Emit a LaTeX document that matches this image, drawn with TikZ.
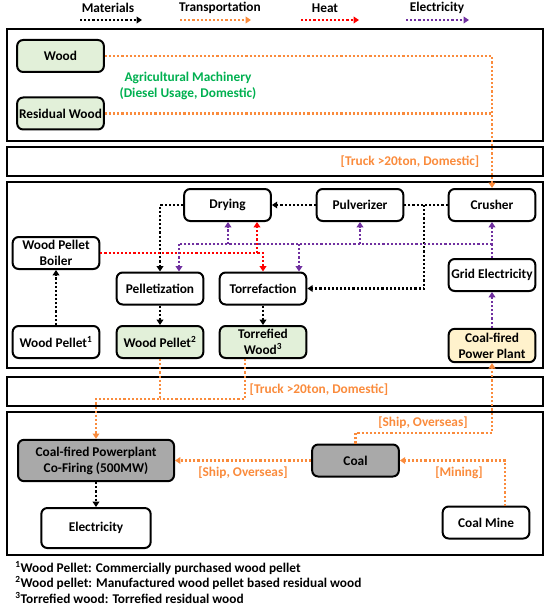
\documentclass[tikz,border=0pt]{standalone}
\usepackage{fontspec}
\setmainfont{Carlito}
\usetikzlibrary{arrows.meta}
\definecolor{woodgreen}{HTML}{E2F0D9}
\definecolor{plantyellow}{HTML}{FFF2CC}
\definecolor{coalgray}{HTML}{A9A9A9}
\definecolor{agrigreen}{HTML}{00B050}
\definecolor{truckorange}{HTML}{FA8B3C}
\definecolor{elecpurple}{HTML}{7030A0}

\begin{document}
\begin{tikzpicture}[x=0.75pt, y=-0.75pt, font=\fontsize{10}{12}\selectfont\bfseries, unit/.style={draw, line width=1.5pt, rounded corners=4.5pt, minimum width=65pt, minimum height=24pt, align=center, inner sep=1pt}, green/.style={fill=woodgreen}, gray/.style={fill=coalgray}, yellow/.style={fill=plantyellow}, frame/.style={draw, line width=1.8pt}, flow/.style={line width=1.7pt, dash pattern=on 1.6pt off 1.5pt}, material/.style={flow, draw=black, -{Triangle[length=4pt, width=5pt]}}, materialline/.style={flow, draw=black}, transport/.style={flow, draw=truckorange, -{Triangle[length=4pt, width=5pt]}}, transportline/.style={flow, draw=truckorange}, heat/.style={flow, draw=red, -{Triangle[length=4pt, width=5pt]}}, elec/.style={flow, draw=elecpurple, -{Triangle[length=4pt, width=5pt]}}, elecline/.style={flow, draw=elecpurple}, label/.style={text=truckorange, inner sep=1pt}]

	\useasboundingbox (0, 0) rectangle (550, 606);

	\node (matlabel) at (108, 8) {Materials};
	\node (translabel) at (220, 8) {Transportation};
	\node (heatlabel) at (325, 8) {Heat};
	\node (eleclabel) at (437, 8) {Electricity};

	\coordinate (matA) at (80, 20);
	\coordinate (matB) at (142, 20);
	\coordinate (transA) at (180, 20);
	\coordinate (transB) at (251, 20);
	\coordinate (heatA) at (301, 20);
	\coordinate (heatB) at (359, 20);
	\coordinate (elecA) at (406, 20);
	\coordinate (elecB) at (469, 20);

	\draw[material] (matA) -- (matB);
	\draw[transport] (transA) -- (transB);
	\draw[heat] (heatA) -- (heatB);
	\draw[elec] (elecA) -- (elecB);

	\draw[frame] (7, 29) rectangle (543, 141);
	\draw[frame] (7, 147) rectangle (543, 176);
	\draw[frame] (7, 182) rectangle (543, 368);
	\draw[frame] (7, 377) rectangle (543, 406);
	\draw[frame] (7, 412) rectangle (543, 555);

	\node[unit, green] (wood) at (60.5, 56) {Wood};
	\node[unit, green] (residual) at (60.5, 113.5) {Residual Wood};
	\node[text=agrigreen, align=center] (agri) at (188, 86) {Agricultural Machinery\\(Diesel Usage, Domestic)};

	\node[label] (truckA) at (410, 162) {[Truck >20ton, Domestic]};

	\node[unit] (drying) at (227.5, 205) {Drying};
	\node[unit] (pulverizer) at (360, 205) {Pulverizer};
	\node[unit] (crusher) at (492, 205) {Crusher};
	\node[unit] (boiler) at (56, 253) {Wood Pellet\\Boiler};
	\node[unit] (grid) at (492, 275) {Grid Electricity};
	\node[unit] (pelletization) at (160, 288.5) {Pelletization};
	\node[unit] (torrefaction) at (263, 288.5) {Torrefaction};
	\node[unit] (pellet1) at (56, 342) {Wood Pellet\textsuperscript{1}};
	\node[unit, green] (pellet2) at (160, 342) {Wood Pellet\textsuperscript{2}};
	\node[unit, green] (torrefied) at (263, 342) {Torrefied\\Wood\textsuperscript{3}};
	\node[unit, yellow, minimum height=25pt] (cfpp) at (492, 345.5) {Coal-fired\\Power Plant};

	\node[label] (truckB) at (319, 390) {[Truck >20ton, Domestic]};

	\node[unit, gray, minimum width=117pt, minimum height=31pt] (cofiring) at (96, 460.5) {Coal-fired Powerplant\\Co-Firing (500MW)};
	\node[unit, gray] (coal) at (355.5, 460.5) {Coal};
	\node[unit, minimum width=82pt, minimum height=30pt] (electricity) at (96, 528) {Electricity};
	\node[unit] (mine) at (486, 522.5) {Coal Mine};

	\node[label] (shipA) at (423, 423) {[Ship, Overseas]};
	\node[label] (shipB) at (243, 473) {[Ship, Overseas]};
	\node[label] (mining) at (459, 473) {[Mining]};

	\node[anchor=west, inner sep=0pt] (noteA) at (15, 568) {\textsuperscript{1}Wood Pellet: Commercially purchased wood pellet};
	\node[anchor=west, inner sep=0pt] (noteB) at (15, 583) {\textsuperscript{2}Wood pellet: Manufactured wood pellet based residual wood};
	\node[anchor=west, inner sep=0pt] (noteC) at (15, 598) {\textsuperscript{3}Torrefied wood: Torrefied residual wood};

	\draw[transport] (wood) -| (crusher);

	\draw[transportline] (residual.east) -- (residual.east -| crusher.north);

	\coordinate (split) at (424, 205);
	\coordinate (heatsplit) at (257, 253);
	\coordinate (busL) at (179, 244);
	\coordinate (busR) at (492, 244);
	\coordinate (busdry) at (228, 244);
	\coordinate (bustor) at (299, 244);

	\draw[material] (pulverizer) -- (drying);

	\draw[materialline] (crusher) -- (pulverizer);

	\draw[material] (split) |- (torrefaction);

	\draw[material] (drying.west) -| (pelletization.north);

	\draw[material] (pelletization) -- (pellet2);

	\draw[material] (torrefaction) -- (torrefied);

	\draw[material] (pellet1) -- (boiler);

	\draw[material] (cofiring) -- (electricity);

	\draw[heat] (boiler) -| (torrefaction);

	\draw[heat] (heatsplit) -- (heatsplit |- drying.south);

	\draw[elecline] (busR) -- (busL);

	\draw[elec] (busL) -- (busL |- pelletization.north);

	\draw[elec] (busdry) -- (busdry |- drying.south);

	\draw[elec] (pulverizer |- busL) -- (pulverizer);

	\draw[elec] (bustor) -- (bustor |- torrefaction.north);

	\draw[elec] (grid) -- (crusher);

	\draw[elec] (cfpp) -- (grid);

	\coordinate (truckjoin) at (96, 399);
	\coordinate (pelletjoin) at (160, 399);
	\coordinate (torrout) at (245, 359);
	\coordinate (shipbend) at (492, 433);
	\coordinate (mineout) at (505, 506);

	\draw[transport] (pellet2) |- (truckjoin) -- (cofiring);

	\draw[transportline] (torrout) |- (pelletjoin);

	\draw[transport] (coal) |- (shipbend) -- (cfpp);

	\draw[transport] (coal) -- (cofiring);

	\draw[transport] (mineout) |- (coal);

\end{tikzpicture}
\end{document}
